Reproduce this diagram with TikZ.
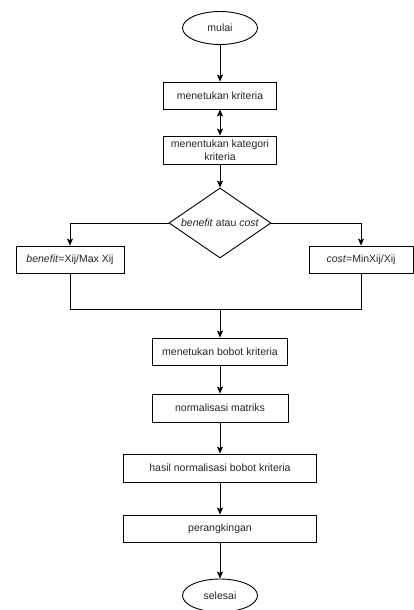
\documentclass[tikz,border=0pt]{standalone}
\usepackage{fontspec}
\setmainfont{Liberation Sans}
\usetikzlibrary{arrows.meta,shapes.geometric}

\begin{document}
\begin{tikzpicture}[x=1pt,y=-1pt,font=\fontsize{10.5}{13}\selectfont,line width=0.9pt,
  term/.style={draw,ellipse,minimum width=75pt,minimum height=33pt,inner sep=0pt,text=black!85},
  proc/.style={draw,rectangle,minimum height=27pt,inner sep=1pt,align=center,text=black!85},
  decide/.style={draw,diamond,aspect=1.46,minimum width=102pt,minimum height=70pt,inner sep=0pt,text=black!85},
  flow/.style={-{Stealth[length=7pt,width=6pt,inset=1.5pt]}}]
  \useasboundingbox (0,0) rectangle (414,610);
  % main column
  \node[term] (mulai) at (220,28) {mulai};
  \node[proc,minimum width=113pt] (krit) at (220,95.5) {menetukan kriteria};
  \node[proc,minimum width=113pt,minimum height=28pt] (kat) at (220,150) {menentukan kategori\\kriteria};
  \node[decide] (dec) at (220,223) {\textit{benefit} atau \textit{cost}};
  % branches
  \node[proc,minimum width=108pt] (ben) at (70,259.5) {\textit{benefit}=Xij/Max Xij};
  \node[proc,minimum width=104pt] (cost) at (361,259.5) {\textit{cost}=MinXij/Xij};
  \coordinate (join) at (220,309.5);
  % lower column
  \node[proc,minimum width=135pt] (bobot) at (220,351.5) {menetukan bobot kriteria};
  \node[proc,minimum width=136pt,minimum height=28pt] (norm) at (220,408) {normalisasi matriks};
  \node[proc,minimum width=193pt,minimum height=28pt] (hasil) at (220,468) {hasil normalisasi bobot kriteria};
  \node[proc,minimum width=193pt] (rank) at (220,528.5) {perangkingan};
  \node[term] (selesai) at (220,595.5) {selesai};
  % connectors
  \draw[flow] (mulai) -- (krit);
  \draw[{Stealth[length=7pt,width=6pt,inset=1.5pt]}-{Stealth[length=7pt,width=6pt,inset=1.5pt]}] (krit) -- (kat);
  \draw[flow] (kat) -- (dec);
  \draw[flow] (dec.west) -| (ben.north);
  \draw[flow] (dec.east) -| (cost.north);
  \draw (ben.south) |- (join) -| (cost.south);
  \draw[flow] (join) -- (bobot);
  \draw[flow] (bobot) -- (norm);
  \draw[flow] (norm) -- (hasil);
  \draw[flow] (hasil) -- (rank);
  \draw[flow] (rank) -- (selesai);
\end{tikzpicture}
\end{document}
